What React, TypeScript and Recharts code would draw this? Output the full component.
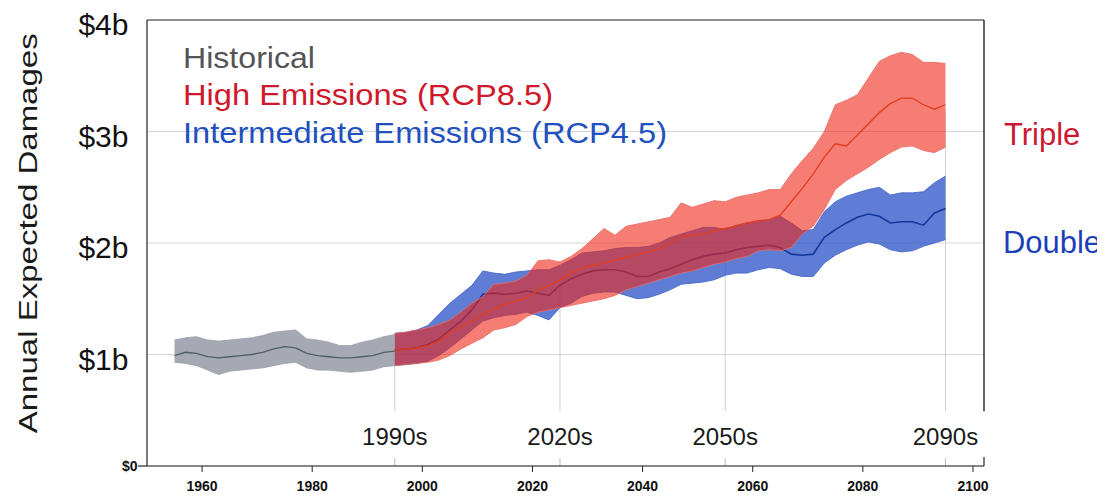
import React from 'react';
import { ComposedChart, Area, Line, XAxis, YAxis, CartesianGrid, ReferenceLine } from 'recharts';

const FONT = '"Liberation Sans", Arial, Helvetica, sans-serif';
const W = 1090;
const H = 488;

// Historical (1955-1995, every 2 years), $ billions
const histYears = [1955, 1957, 1959, 1961, 1963, 1965, 1967, 1969, 1971, 1973, 1975, 1977, 1979, 1981, 1983, 1985, 1987, 1989, 1991, 1993, 1995];
const histMean = [0.99, 1.02, 1.01, 0.98, 0.97, 0.98, 0.99, 1.0, 1.02, 1.05, 1.07, 1.06, 1.01, 0.99, 0.98, 0.97, 0.97, 0.98, 0.99, 1.02, 1.03];
const histLow = [0.93, 0.92, 0.9, 0.86, 0.82, 0.85, 0.86, 0.87, 0.88, 0.9, 0.92, 0.93, 0.88, 0.86, 0.86, 0.85, 0.84, 0.85, 0.86, 0.89, 0.9];
const histHigh = [1.13, 1.15, 1.16, 1.13, 1.12, 1.13, 1.14, 1.15, 1.17, 1.2, 1.21, 1.22, 1.14, 1.13, 1.11, 1.08, 1.08, 1.11, 1.13, 1.16, 1.18];

// Projections (1995-2095, every 2 years)
const projYears = [
  1995, 1997, 1999, 2001, 2003, 2005, 2007, 2009, 2011, 2013, 2015,
  2017, 2019, 2021, 2023, 2025, 2027, 2029, 2031, 2033, 2035, 2037,
  2039, 2041, 2043, 2045, 2047, 2049, 2051, 2053, 2055, 2057, 2059,
  2061, 2063, 2065, 2067, 2069, 2071, 2073, 2075, 2077, 2079, 2081,
  2083, 2085, 2087, 2089, 2091, 2093, 2095,
];
const rcp85High = [
  1.19, 1.2, 1.22, 1.24, 1.27, 1.31, 1.38, 1.46, 1.52, 1.63, 1.64,
  1.66, 1.71, 1.84, 1.85, 1.83, 1.88, 1.95, 2.04, 2.13, 2.07, 2.15,
  2.17, 2.19, 2.21, 2.23, 2.36, 2.32, 2.35, 2.38, 2.37, 2.41, 2.43,
  2.45, 2.48, 2.48, 2.62, 2.74, 2.85, 3.0, 3.24, 3.28, 3.33, 3.48,
  3.63, 3.68, 3.71, 3.69, 3.62, 3.62, 3.61,
];
const rcp85Mean = [
  1.04, 1.05, 1.06, 1.08, 1.12, 1.19, 1.25, 1.3, 1.36, 1.41, 1.45,
  1.48, 1.51, 1.58, 1.62, 1.67, 1.73, 1.78, 1.8, 1.82, 1.85, 1.87,
  1.9, 1.92, 1.95, 2.0, 2.06, 2.07, 2.08, 2.11, 2.13, 2.15, 2.18,
  2.2, 2.21, 2.25, 2.37, 2.49, 2.62, 2.77, 2.89, 2.87, 2.97, 3.07,
  3.17, 3.25, 3.3, 3.3, 3.24, 3.2, 3.24,
];
const rcp85Low = [
  0.9, 0.91, 0.92, 0.93, 0.95, 0.99, 1.05, 1.1, 1.15, 1.22, 1.24,
  1.27, 1.34, 1.38, 1.4, 1.42, 1.44, 1.46, 1.48, 1.5, 1.53, 1.58,
  1.61, 1.64, 1.67, 1.7, 1.73, 1.75, 1.78, 1.81, 1.83, 1.86, 1.88,
  1.93, 1.94, 1.93, 1.96, 2.08, 2.15, 2.3, 2.48, 2.56, 2.62, 2.68,
  2.75, 2.81, 2.86, 2.87, 2.83, 2.81, 2.86,
];
const rcp45High = [
  1.19, 1.2, 1.22, 1.26, 1.36, 1.46, 1.54, 1.62, 1.75, 1.73, 1.72,
  1.74, 1.75, 1.76, 1.76, 1.8, 1.85, 1.91, 1.92, 1.93, 1.95, 1.96,
  1.96, 1.97, 2.0, 2.05, 2.08, 2.11, 2.14, 2.14, 2.12, 2.16, 2.18,
  2.19, 2.21, 2.24, 2.18, 2.11, 2.12, 2.28, 2.37, 2.42, 2.45, 2.48,
  2.5, 2.43, 2.45, 2.45, 2.46, 2.54, 2.6,
];
const rcp45Mean = [
  1.04, 1.05, 1.06, 1.09, 1.14, 1.22, 1.3, 1.4, 1.54, 1.55, 1.54,
  1.55, 1.57, 1.55, 1.53, 1.62, 1.68, 1.72, 1.75, 1.76, 1.76, 1.74,
  1.7, 1.7, 1.74, 1.77, 1.81, 1.85, 1.88, 1.9, 1.91, 1.94, 1.96,
  1.97, 1.98, 1.96, 1.9, 1.89, 1.9, 2.05, 2.12, 2.18, 2.23, 2.26,
  2.24, 2.18, 2.19, 2.19, 2.16, 2.27, 2.31,
];
const rcp45Low = [
  0.9, 0.91, 0.92, 0.94, 0.99, 1.06, 1.14, 1.22, 1.3, 1.33, 1.35,
  1.36, 1.38, 1.35, 1.31, 1.42, 1.46, 1.52, 1.55, 1.56, 1.56, 1.53,
  1.5, 1.51, 1.54, 1.58, 1.63, 1.64, 1.65, 1.67, 1.71, 1.73, 1.73,
  1.76, 1.78, 1.77, 1.72, 1.7, 1.7, 1.82, 1.89, 1.94, 1.98, 2.01,
  1.99, 1.94, 1.92, 1.93, 1.97, 2.0, 2.03,
];

const xTicks = [1960, 1980, 2000, 2020, 2040, 2060, 2080, 2100];
const yTicks = [0, 1, 2, 3, 4];
const yTickLabels = ['$0', '$1b', '$2b', '$3b', '$4b'];
const decadeYears = [1995, 2025, 2055, 2095];
const decadeLabels = ['1990s', '2020s', '2050s', '2090s'];
const decadeLineTop = [1.05, 1.65, 2.0, 3.2];

// merge into one table for the chart
const allYears = [...histYears, ...projYears.filter((y) => !histYears.includes(y))];
const rows = allYears.map((year) => {
  const row: any = { year };
  const hi = histYears.indexOf(year);
  if (hi >= 0) {
    row.hMean = histMean[hi];
    row.hRange = [histLow[hi], histHigh[hi]];
  }
  const pi = projYears.indexOf(year);
  if (pi >= 0) {
    row.r85Mean = rcp85Mean[pi];
    row.r85Range = [rcp85Low[pi], rcp85High[pi]];
    row.r45Mean = rcp45Mean[pi];
    row.r45Range = [rcp45Low[pi], rcp45High[pi]];
  }
  return row;
});

const YTick = (props: any) => {
  const { x, y, payload } = props;
  const idx = yTicks.indexOf(payload.value);
  const label = yTickLabels[idx];
  if (payload.value === 0) {
    return (
      <g>
        <line x1={x - 9} x2={x} y1={y} y2={y} stroke="#222" strokeWidth={1.2} />
        <text x={x - 9.5} y={y + 5} textAnchor="end" fontSize={14} fontWeight={700} fill="#111">
          {label}
        </text>
      </g>
    );
  }
  return (
    <text x={x - 18.5} y={y + 15} textAnchor="end" fontSize={30} fill="#111">
      {label}
    </text>
  );
};

const decadeLabel = (text: string) => (props: any) => {
  const vb = props.viewBox || {};
  const cx = (vb.x || 0) + (vb.width || 0) / 2;
  const bottom = (vb.y || 0) + (vb.height || 0);
  return (
    <text x={cx} y={bottom + 33.6} textAnchor="middle" fontSize={24} fill="#1a1a1a">
      {text}
    </text>
  );
};

export default function App() {
  return (
    <div style={{ position: 'relative', width: W, height: H, fontFamily: FONT }}>
      <style>{'html,body{overflow:hidden;}'}</style>
      <ComposedChart width={W} height={H} data={rows} margin={{ top: 12, right: 114, bottom: 0, left: 0 }}>
        <CartesianGrid vertical={false} stroke="#d6d6d6" strokeWidth={1} />
        <XAxis
          dataKey="year"
          type="number"
          domain={[1950, 2102]}
          ticks={xTicks}
          interval={0}
          allowDataOverflow
          height={30}
          tickSize={6}
          tickMargin={9.5}
          stroke="#222"
          tick={{ fontSize: 14, fontWeight: 700, fill: '#111' }}
        />
        <YAxis
          type="number"
          domain={[0, 4]}
          ticks={yTicks}
          interval={0}
          width={139}
          tickSize={0}
          tickMargin={0}
          tickLine={false}
          axisLine={{ stroke: '#222', strokeWidth: 1.2 }}
          tick={<YTick />}
        />
        {decadeYears.map((yr, i) => (
          <ReferenceLine
            key={'d' + yr}
            segment={[{ x: yr, y: 0.49 }, { x: yr, y: decadeLineTop[i] }]}
            stroke="#cfcfcf"
            strokeWidth={1}
            zIndex={50}
            label={decadeLabel(decadeLabels[i])}
          />
        ))}
        {decadeYears.map((yr) => (
          <ReferenceLine
            key={'t' + yr}
            segment={[{ x: yr, y: 0 }, { x: yr, y: 0.07 }]}
            stroke="#bbbbbb"
            strokeWidth={1}
            zIndex={50}
          />
        ))}
        <ReferenceLine y={4} stroke="#333" strokeWidth={1} zIndex={50} />
        <ReferenceLine segment={[{ x: 2102, y: 0.49 }, { x: 2102, y: 4 }]} stroke="#222" strokeWidth={1.4} zIndex={50} />
        <ReferenceLine segment={[{ x: 2102, y: 0 }, { x: 2102, y: 0.08 }]} stroke="#222" strokeWidth={1.2} zIndex={50} />

        <Area
          dataKey="hRange"
          type="linear"
          stroke="#9a9eaa"
          strokeWidth={0.8}
          fill="#a6a9b3"
          fillOpacity={1}
          isAnimationActive={false}
          dot={false}
          activeDot={false}
          zIndex={100}
        />
        <Area
          dataKey="r45Range"
          type="linear"
          stroke="#3d62c8"
          strokeWidth={0.8}
          fill="#1c46c4"
          fillOpacity={0.7}
          isAnimationActive={false}
          dot={false}
          activeDot={false}
          zIndex={110}
        />
        <Line
          dataKey="r45Mean"
          type="linear"
          stroke="#14379e"
          strokeWidth={1.6}
          dot={false}
          activeDot={false}
          isAnimationActive={false}
          zIndex={120}
        />
        <Area
          dataKey="r85Range"
          type="linear"
          stroke="#e86a62"
          strokeWidth={0.8}
          fill="#ee2616"
          fillOpacity={0.6}
          isAnimationActive={false}
          dot={false}
          activeDot={false}
          zIndex={130}
        />
        <Line
          dataKey="r85Mean"
          type="linear"
          stroke="#e23c1e"
          strokeWidth={1.3}
          dot={false}
          activeDot={false}
          isAnimationActive={false}
          zIndex={140}
        />
        <Line
          dataKey="hMean"
          type="linear"
          stroke="#4f6067"
          strokeWidth={1.3}
          dot={false}
          activeDot={false}
          isAnimationActive={false}
          zIndex={145}
        />
      </ComposedChart>
      <svg
        width={1097}
        height={H}
        style={{ position: 'absolute', left: 0, top: 0, pointerEvents: 'none', fontFamily: FONT }}
      >
        <text
          x={28.7}
          y={225.3}
          transform="rotate(-90 28.7 225.3)"
          textAnchor="middle"
          fontSize={26}
          textLength={400}
          lengthAdjust="spacingAndGlyphs"
          fill="#1a1a1a"
        >
          Annual Expected Damages
        </text>
        <text x={175} y={60.3} fontSize={30} textLength={132} lengthAdjust="spacingAndGlyphs" fill="#555555">
          Historical
        </text>
        <text x={175} y={97.3} fontSize={30} textLength={370} lengthAdjust="spacingAndGlyphs" fill="#d0182c">
          High Emissions (RCP8.5)
        </text>
        <text x={175} y={135.3} fontSize={30} textLength={484} lengthAdjust="spacingAndGlyphs" fill="#2150c0">
          Intermediate Emissions (RCP4.5)
        </text>
        <text x={996} y={137} fontSize={31} fill="#cc1830">
          Triple
        </text>
        <text x={995} y={245} fontSize={31} textLength={98} lengthAdjust="spacingAndGlyphs" fill="#1c3fb8">
          Double
        </text>
      </svg>
    </div>
  );
}
